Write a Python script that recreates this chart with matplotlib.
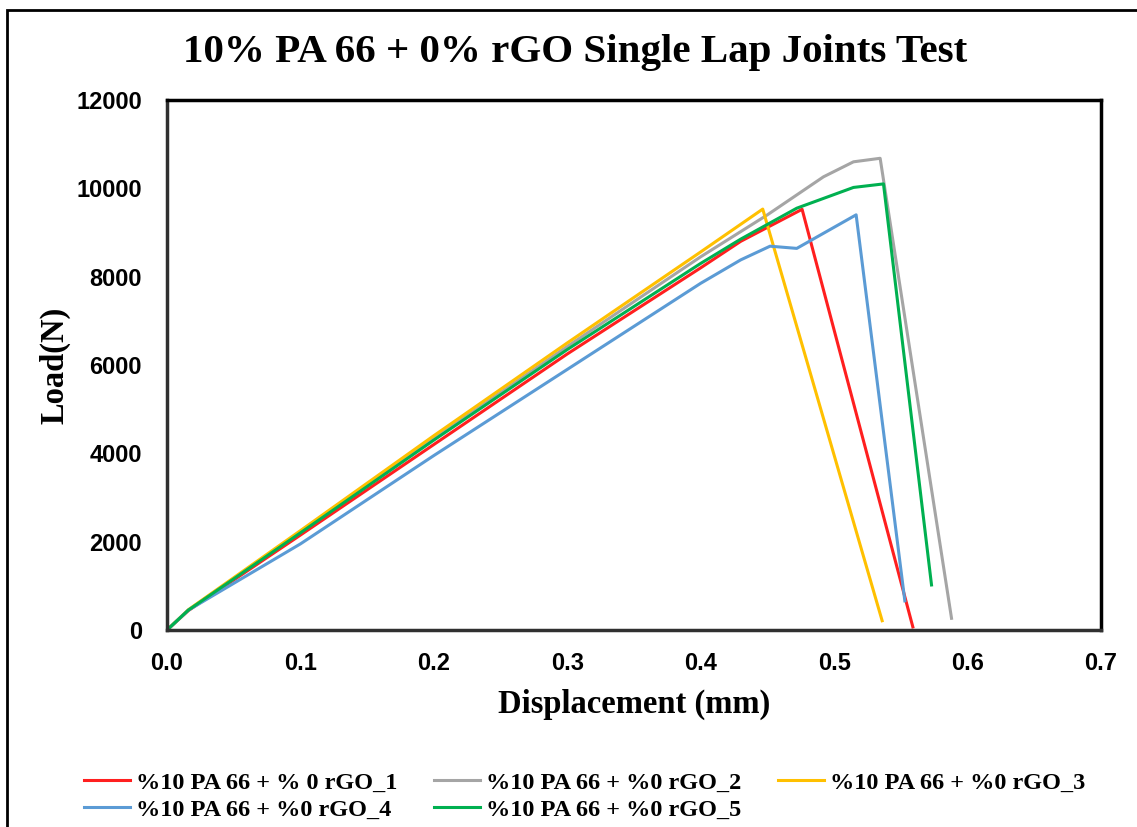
import matplotlib
matplotlib.use("Agg")
import matplotlib.pyplot as plt
from matplotlib.patches import Rectangle

# Displacement (mm) / Load (N) for each specimen
x1 = [0, 0.016, 0.1, 0.2, 0.3, 0.4, 0.43, 0.476, 0.559]
y1 = [0, 440, 2150, 4200, 6250, 8200, 8800, 9525, 70]

x2 = [0, 0.016, 0.1, 0.2, 0.3, 0.4, 0.45, 0.492, 0.5145, 0.5345, 0.588]
y2 = [0, 450, 2220, 4330, 6420, 8450, 9400, 10260, 10600, 10680, 265]

x3 = [0, 0.016, 0.1, 0.2, 0.3, 0.4, 0.4465, 0.536]
y3 = [0, 460, 2250, 4400, 6500, 8560, 9530, 210]

x4 = [0, 0.016, 0.1, 0.2, 0.3, 0.4, 0.43, 0.452, 0.472, 0.5165, 0.553]
y4 = [0, 450, 1950, 3950, 5900, 7850, 8380, 8690, 8640, 9400, 660]

x5 = [0, 0.016, 0.1, 0.2, 0.3, 0.4, 0.43, 0.472, 0.5145, 0.537, 0.573]
y5 = [0, 450, 2200, 4300, 6350, 8300, 8850, 9550, 10020, 10100, 1020]

labels = [
    "%10 PA 66 + % 0 rGO_1",
    "%10 PA 66 + %0 rGO_2",
    "%10 PA 66 + %0 rGO_3",
    "%10 PA 66 + %0 rGO_4",
    "%10 PA 66 + %0 rGO_5",
]
colors = ["#FF1F1F", "#A5A5A5", "#FFC000", "#5B9BD5", "#00B050"]

xticks = [0.0, 0.1, 0.2, 0.3, 0.4, 0.5, 0.6, 0.7]
yticks = [0, 2000, 4000, 6000, 8000, 10000, 12000]

serif = "Liberation Serif"
sans = "Liberation Sans"

fig = plt.figure(figsize=(11.37, 8.27), dpi=100)
ax = fig.add_axes([0.1469, 0.2382, 0.8214, 0.6409])

series = [(x1, y1), (x2, y2), (x3, y3), (x4, y4), (x5, y5)]
handles = []
for (xs, ys), lab, c in zip(series, labels, colors):
    h, = ax.plot(xs, ys, color=c, lw=2.2, label=lab)
    handles.append(h)

ax.set_xlim(0, 0.7)
ax.set_ylim(0, 12000)
ax.set_xticks(xticks)
ax.set_yticks(yticks)
ax.set_xticklabels([f"{v:.1f}" for v in xticks])
ax.set_yticklabels([str(v) for v in yticks])
ax.tick_params(axis="x", length=0, pad=16)
ax.tick_params(axis="y", length=0, pad=18)
for lab in ax.get_xticklabels() + ax.get_yticklabels():
    lab.set_fontfamily(sans)
    lab.set_fontweight("bold")
    lab.set_fontsize(17)

for side in ["top", "right"]:
    ax.spines[side].set_linewidth(2.5)
    ax.spines[side].set_color("black")
for side in ["left", "bottom"]:
    ax.spines[side].set_linewidth(2.5)
    ax.spines[side].set_color("#303030")

ax.set_xlabel("Displacement (mm)", fontfamily=serif, fontweight="bold",
              fontsize=23.5, labelpad=10)
ax.set_ylabel("Load(N)", fontfamily=serif, fontweight="bold",
              fontsize=23.5, labelpad=4)

fig.text(0.506, 0.937, "10% PA 66 + 0% rGO Single Lap Joints Test",
         ha="center", va="center", fontfamily=serif, fontweight="bold",
         fontsize=29.5)

# matplotlib fills legend columns first; reorder so entries run across rows
order = [0, 3, 1, 4, 2]
fig.legend([handles[i] for i in order], [labels[i] for i in order],
           loc="center", bbox_to_anchor=(0.514, 0.0375), ncol=3, frameon=False,
           prop={"family": serif, "weight": "bold", "size": 17.5},
           handlelength=1.9, handletextpad=0.25, columnspacing=1.5,
           labelspacing=0.2)

# outer chart border
fig.patches.append(Rectangle((7 / 1137, -0.05), 1.1, 1 - 10 / 827 + 0.05,
                             transform=fig.transFigure, fill=False,
                             edgecolor="black", lw=2, clip_on=False))

fig.savefig("out.png", dpi=100)
